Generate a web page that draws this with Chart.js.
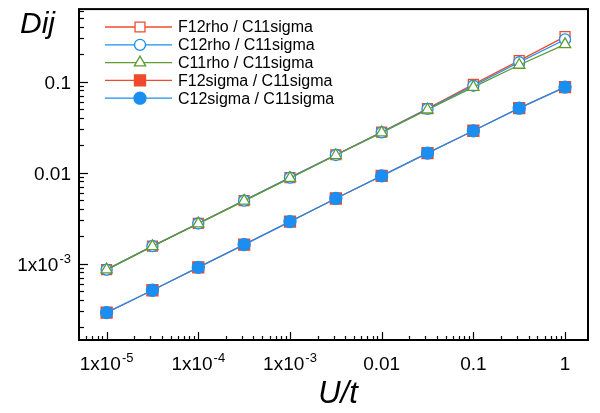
<!DOCTYPE html>
<html>
<head>
<meta charset="utf-8">
<script src="https://cdn.jsdelivr.net/npm/chart.js@4.4.0/dist/chart.umd.min.js"></script>
<style>
  html, body { margin:0; padding:0; background:#fff; }
  #box { width:600px; height:413px; }
</style>
</head>
<body>
<div id="box"><canvas id="dij_chart"></canvas></div>
<script>
// U/t values (half decades)
const uVals = [1e-5, 3.162e-5, 1e-4, 3.162e-4, 1e-3, 3.162e-3, 0.01, 0.03162, 0.1, 0.3162, 1];

const f12rho   = [8.6e-4, 1.56e-3, 2.77e-3, 4.93e-3, 8.8e-3, 0.0157, 0.0279, 0.0505, 0.093, 0.170, 0.312];
const c12rho   = [8.6e-4, 1.56e-3, 2.76e-3, 4.92e-3, 8.8e-3, 0.0156, 0.0277, 0.0500, 0.090, 0.163, 0.290];
const c11rho   = [8.6e-4, 1.55e-3, 2.75e-3, 4.90e-3, 8.7e-3, 0.0155, 0.0275, 0.0490, 0.087, 0.152, 0.256];
const f12sigma = [2.9e-4, 5.1e-4, 9.1e-4, 1.62e-3, 2.9e-3, 5.2e-3, 9.2e-3, 0.0164, 0.0288, 0.051, 0.087];
const c12sigma = [2.9e-4, 5.1e-4, 9.1e-4, 1.62e-3, 2.9e-3, 5.2e-3, 9.2e-3, 0.0164, 0.0288, 0.051, 0.087];

const seriesLabels = ["F12rho / C11sigma", "C12rho / C11sigma", "C11rho / C11sigma", "F12sigma / C11sigma", "C12sigma / C11sigma"];

const xDecades = [1e-5, 1e-4, 1e-3, 0.01, 0.1, 1];
const yDecades = [1e-3, 0.01, 0.1];

const RED = "#ef4a2c";
const BLUE = "#1b8ef2";
const GREEN = "#5f9b32";
const FONT = "'Liberation Sans', Arial, Helvetica, sans-serif";

function pts(arr) {
    let out = [];
    for (let i = 0; i < uVals.length; i++) out.push({x: uVals[i], y: arr[i]});
    return out;
}

// mantissa/exponent label: returns [main, sup]
function fmt(v) {
    let e = Math.round(Math.log10(v));
    if (e >= -2) return [String(v), ""];
    return ["1x10", String(e)];
}

function drawLabel(ctx, v, x, y, align) {
    let p = fmt(v);
    ctx.font = "19px " + FONT;
    let w1 = ctx.measureText(p[0]).width;
    ctx.font = "13px " + FONT;
    let w2 = p[1] ? ctx.measureText(p[1]).width + 1 : 0;
    let total = w1 + w2;
    let left = align == "right" ? x - total : x - total / 2;
    ctx.textAlign = "left";
    ctx.textBaseline = "alphabetic";
    ctx.fillStyle = "#000";
    ctx.font = "19px " + FONT;
    ctx.fillText(p[0], left, y);
    if (p[1]) {
        ctx.font = "13px " + FONT;
        ctx.fillText(p[1], left + w1 + 1, y - 8);
    }
}

const framePlugin = {
    id: "frame",
    afterDatasetsDraw(chart) {
        const ctx = chart.ctx;
        const a = chart.chartArea;
        const xs = chart.scales.x, ys = chart.scales.y;
        ctx.save();
        // inward ticks
        ctx.strokeStyle = "#000";
        ctx.lineWidth = 1.2;
        for (let e = -6; e <= 1; e++) {
            for (let m = 1; m <= 9; m++) {
                let v = m * Math.pow(10, e);
                let len = m == 1 ? 9 : 5;
                if (v >= xs.min && v <= xs.max) {
                    let px = Math.round(xs.getPixelForValue(v)) + 0.5;
                    ctx.beginPath(); ctx.moveTo(px, a.bottom); ctx.lineTo(px, a.bottom - (m == 1 ? 8 : 4)); ctx.stroke();
                }
                if (v >= ys.min && v <= ys.max) {
                    let py = Math.round(ys.getPixelForValue(v)) + 0.5;
                    ctx.beginPath(); ctx.moveTo(a.left, py); ctx.lineTo(a.left + len, py); ctx.stroke();
                }
            }
        }
        // frame
        ctx.lineWidth = 2;
        ctx.strokeRect(a.left, a.top, a.right - a.left, a.bottom - a.top);
        // tick labels
        xDecades.forEach(v => drawLabel(ctx, v, xs.getPixelForValue(v), a.bottom + 30, "center"));
        yDecades.forEach(v => drawLabel(ctx, v, 71, ys.getPixelForValue(v) + 7, "right"));
        // axis titles
        ctx.fillStyle = "#000";
        ctx.font = "italic 31px " + FONT;
        ctx.textAlign = "center";
        ctx.fillText("U/t", 338, a.bottom + 63);
        ctx.textAlign = "left";
        ctx.font = "italic 30px " + FONT;
        ctx.fillText("Dij", 20, 33);
        // legend
        chart.data.datasets.forEach((ds, i) => {
            let y = 27 + i * 17.8;
            ctx.strokeStyle = ds.borderColor;
            ctx.lineWidth = 1.3;
            ctx.beginPath(); ctx.moveTo(105, y); ctx.lineTo(172, y); ctx.stroke();
            ctx.fillStyle = ds.pointBackgroundColor;
            ctx.strokeStyle = ds.pointBorderColor;
            ctx.lineWidth = 1.3;
            Chart.helpers.drawPoint(ctx, {pointStyle: ds.pointStyle, radius: ds.pointRadius, rotation: 0, borderWidth: 1.3}, 140, y);
            ctx.fillStyle = "#000";
            ctx.font = "16px " + FONT;
            ctx.textBaseline = "middle";
            ctx.textAlign = "left";
            ctx.fillText(ds.label, 178, y + 1);
        });
        ctx.restore();
    }
};

function makeSet(label, data, color, style, radius, filled, order) {
    return {
        label: label,
        data: pts(data),
        borderColor: color,
        borderWidth: 1.3,
        pointStyle: style,
        pointRadius: radius,
        pointHoverRadius: radius,
        pointBorderColor: color,
        pointBorderWidth: 1.3,
        pointBackgroundColor: filled ? color : "#fff",
        order: order
    };
}

let dijChart = new Chart(document.getElementById("dij_chart"), {
    type: "line",
    data: {
        datasets: [
            makeSet(seriesLabels[0], f12rho, RED, "rect", 7, false, 5),
            makeSet(seriesLabels[1], c12rho, BLUE, "circle", 5.5, false, 4),
            makeSet(seriesLabels[2], c11rho, GREEN, "triangle", 6.5, false, 3),
            makeSet(seriesLabels[3], f12sigma, RED, "rect", 7.8, true, 2),
            makeSet(seriesLabels[4], c12sigma, BLUE, "circle", 6, true, 1)
        ]
    },
    options: {
        responsive: true,
        maintainAspectRatio: false,
        animation: false,
        layout: { padding: { top: 2, right: 12, left: 0, bottom: 0 } },
        plugins: { legend: { display: false }, tooltip: { enabled: false } },
        scales: {
            x: {
                type: "logarithmic",
                min: 5e-6,
                max: 1.78,
                grid: { display: false },
                border: { display: false },
                ticks: { display: false },
                afterFit: s => { s.height = 73; }
            },
            y: {
                type: "logarithmic",
                min: 1.45e-4,
                max: 0.625,
                grid: { display: false },
                border: { display: false },
                ticks: { display: false },
                afterFit: s => { s.width = 79; }
            }
        }
    },
    plugins: [framePlugin]
});
</script>
</body>
</html>
